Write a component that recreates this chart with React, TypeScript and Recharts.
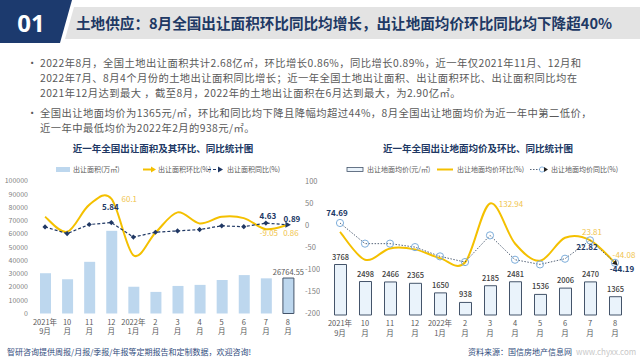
import React from 'react';
import {
    ComposedChart,
    Bar,
    Line,
    XAxis,
    YAxis,
    Cell,
    LabelList,
} from 'recharts';

// ---- data ----
const months = ['2021年9月', '10月', '11月', '12月', '2022年1月', '2月', '3月', '4月', '5月', '6月', '7月', '8月'];
const tickTop = ['2021年', '10', '11', '12', '2022年', '2', '3', '4', '5', '6', '7', '8'];
const tickBottom = ['9月', '月', '月', '月', '1月', '月', '月', '月', '月', '月', '月', '月'];

// left chart: 出让面积(万㎡), 环比(%), 同比(%)
const areaValues = [30400, 25900, 39000, 62400, 20200, 16300, 20800, 21600, 25300, 29000, 26536, 26764.55];
const areaMom = [19, -15, 46, 60.1, -68, -17, 29, 4, 19, 16, -9.05, 0.86];
const areaYoy = [-4, -19, 1.5, 5.84, -27, -16, -13, -10, -1.5, -3.5, 4.63, 0.89];
const areaTicks = [0, 10000, 20000, 30000, 40000, 50000, 60000, 70000, 80000, 90000, 100000];
const pctTicks = [-200, -150, -100, -50, 0, 50, 100];

// right chart: 出让地面均价(元/㎡), 环比(%), 同比(%)
const priceValues = [3768, 2498, 2466, 2365, 1650, 938, 2185, 2481, 1536, 2006, 2470, 1365];
const priceMom = [48, -35, -1.3, -4.1, -30.2, -43.2, 132.94, 13.5, -38.1, 30.6, 23.81, -44.08];
const priceYoy = [74.69, 13, 13, 2.7, -25, -42, 37.7, -35, -49, -32, 22.82, -44.19];

const leftData = months.map((m, i) => ({
    month: m,
    area: areaValues[i],
    mom: areaMom[i],
    yoy: areaYoy[i],
}));

const rightData = months.map((m, i) => ({
    month: m,
    price: priceValues[i],
    mom: priceMom[i],
    yoy: priceYoy[i],
}));

const FONT = '"Noto Sans CJK SC", "Noto Sans", sans-serif';
const NAVY = '#203864';
const GOLD = '#f4c000';
const GOLD_TEXT = '#f0c44c';
const GRAY = '#595959';

// Excel-like smoothed line (catmull-rom style bezier)
const excelCurve = (context: any) => {
    let pts: number[][] = [];
    return {
        areaStart() {},
        areaEnd() {},
        lineStart() { pts = []; },
        point(x: number, y: number) { pts.push([+x, +y]); },
        lineEnd() {
            if (!pts.length) return;
            context.moveTo(pts[0][0], pts[0][1]);
            for (let i = 0; i < pts.length - 1; i++) {
                const p0 = pts[i - 1] || pts[i];
                const p1 = pts[i];
                const p2 = pts[i + 1];
                const p3 = pts[i + 2] || p2;
                context.bezierCurveTo(
                    p1[0] + (p2[0] - p0[0]) / 6, p1[1] + (p2[1] - p0[1]) / 6,
                    p2[0] - (p3[0] - p1[0]) / 6, p2[1] - (p3[1] - p1[1]) / 6,
                    p2[0], p2[1]
                );
            }
        },
    };
};

const MonthTick = ({ x, y, payload, index }: any) => {
    const i = index ?? months.indexOf(payload.value);
    return (
        <text x={x} y={y} textAnchor="middle" fontSize={7.5} fill={GRAY} fontFamily={FONT}>
            <tspan x={x} dy={11}>{tickTop[i]}</tspan>
            <tspan x={x} dy={9.5}>{tickBottom[i]}</tspan>
        </text>
    );
};

// label renderer: only for listed indices, offsets relative to point
const pointLabel = (offsets: Record<number, [number, number]>, color: string, weight = 400) => (props: any) => {
    const { x, y, value, index } = props;
    const o = offsets[index];
    if (!o) return null;
    return (
        <text key={`l${index}`} x={x + o[0]} y={y + o[1]} textAnchor="middle" fontSize={8} fontWeight={weight} fill={color} fontFamily={FONT}>
            {value}
        </text>
    );
};

const DiamondDot = (props: any) => {
    const { cx, cy, index } = props;
    if (cx == null || cy == null) return null;
    if (index === areaYoy.length - 1) {
        return <path key={`d${index}`} d={`M${cx + 3},${cy} L${cx - 2.5},${cy - 3} L${cx - 2.5},${cy + 3} Z`} fill={NAVY} />;
    }
    return <path key={`d${index}`} d={`M${cx},${cy - 2.6} L${cx + 2.6},${cy} L${cx},${cy + 2.6} L${cx - 2.6},${cy} Z`} fill={NAVY} />;
};

const CircleDot = (props: any) => {
    const { cx, cy, index } = props;
    if (cx == null || cy == null) return null;
    return (
        <g key={`c${index}`}>
            <circle cx={cx} cy={cy} r={3.6} fill="none" stroke="#7eaedb" strokeWidth={1} />
            {index === priceYoy.length - 1 && (
                <path d={`M${cx + 2.5},${cy + 2.5} L${cx - 3},${cy + 1} L${cx + 1},${cy - 3} Z`} fill="#222" />
            )}
        </g>
    );
};

const lastBarLabel = (props: any) => {
    const { x, y, width, value, index } = props;
    if (index !== areaValues.length - 1) return null;
    return (
        <text key="lb" x={x + width / 2} y={y - 3} textAnchor="middle" fontSize={7.5} fill={GRAY} fontFamily={FONT}>
            {value}
        </text>
    );
};

const priceBarLabel = (props: any) => {
    const { x, y, width, value, index } = props;
    return (
        <text key={`p${index}`} x={x + width / 2} y={y - 5} textAnchor="middle" fontSize={7.5} fill="#404040" fontWeight={500} fontFamily={FONT}>
            {value}
        </text>
    );
};

const LeftChart = () => (
    <ComposedChart width={320} height={165} data={leftData} margin={{ top: 6, right: 0, bottom: 0, left: 0 }}>
        <XAxis dataKey="month" axisLine={false} tickLine={false} tickSize={0} tickMargin={0} height={26.5} interval={0} tick={<MonthTick />} />
        <YAxis
            yAxisId="area"
            domain={[0, 100000]}
            ticks={areaTicks}
            width={34}
            axisLine={false}
            tickLine={false}
            tickSize={0}
            tickMargin={6}
            tick={{ fontSize: 7, fill: '#7f7f7f', fontFamily: FONT }}
        />
        <YAxis
            yAxisId="pct"
            orientation="right"
            domain={[-200, 100]}
            ticks={pctTicks}
            width={21}
            axisLine={false}
            tickLine={false}
            tickSize={0}
            tickMargin={6}
            tick={{ fontSize: 7.5, fill: '#7f7f7f', fontFamily: FONT, textAnchor: 'start' }}
        />
        <Bar yAxisId="area" dataKey="area" barSize={11} fill="#bdd7ee" isAnimationActive={false}>
            {leftData.map((d, i) => (
                <Cell key={d.month} fill="#bdd7ee" stroke={i === leftData.length - 1 ? '#44546a' : 'none'} strokeWidth={1} />
            ))}
            <LabelList dataKey="area" content={lastBarLabel} />
        </Bar>
        <Line
            yAxisId="pct"
            dataKey="mom"
            type={excelCurve as any}
            stroke={GOLD}
            strokeWidth={2}
            dot={false}
            isAnimationActive={false}
        >
            <LabelList dataKey="mom" content={pointLabel({ 3: [18, 3], 10: [3, 7], 11: [3, 11] }, GOLD_TEXT)} />
        </Line>
        <Line
            yAxisId="pct"
            dataKey="yoy"
            type="linear"
            stroke={NAVY}
            strokeWidth={1.2}
            strokeDasharray="3 2"
            dot={DiamondDot}
            isAnimationActive={false}
        >
            <LabelList dataKey="yoy" content={pointLabel({ 3: [-1, -13], 10: [2, -4], 11: [4, -3] }, NAVY, 700)} />
        </Line>
    </ComposedChart>
);

const RightChart = () => (
    <ComposedChart width={320} height={165} data={rightData} margin={{ top: 6, right: 12.5, bottom: 0, left: 7.5 }}>
        <XAxis dataKey="month" axisLine={false} tickLine={false} tickSize={0} tickMargin={0} height={25} interval={0} tick={<MonthTick />} />
        <YAxis yAxisId="price" hide domain={[0, 10000]} />
        <YAxis yAxisId="pct" hide domain={[-200, 200]} orientation="right" />
        <Bar yAxisId="price" dataKey="price" barSize={12} fill="#eaf3fb" stroke="#44546a" strokeWidth={1} isAnimationActive={false}>
            <LabelList dataKey="price" content={priceBarLabel} />
        </Bar>
        <Line
            yAxisId="pct"
            dataKey="mom"
            type={excelCurve as any}
            stroke={GOLD}
            strokeWidth={2}
            dot={false}
            isAnimationActive={false}
        >
            <LabelList dataKey="mom" content={pointLabel({ 6: [21, 4], 10: [2, -5], 11: [9, -5] }, GOLD_TEXT)} />
        </Line>
        <Line
            yAxisId="pct"
            dataKey="yoy"
            type="linear"
            stroke="#44546a"
            strokeWidth={0.9}
            strokeDasharray="1.5 1.5"
            dot={CircleDot}
            isAnimationActive={false}
        >
            <LabelList dataKey="yoy" content={pointLabel({ 0: [-3, -7], 10: [-3, 10], 11: [7, 9] }, NAVY, 700)} />
        </Line>
    </ComposedChart>
);

const bodyLines = [
    { y: 62, bullet: true, text: '2022年8月，全国土地出让面积共计2.68亿㎡，环比增长0.86%，同比增长0.89%，近一年仅2021年11月、12月和' },
    { y: 77, bullet: false, text: '2022年7月、8月4个月份的土地出让面积同比增长；近一年全国土地出让面积、出让面积环比、出让面积同比均在' },
    { y: 92, bullet: false, text: '2021年12月达到最大 ，截至8月，2022年的土地出让面积在6月达到最大，为2.90亿㎡。' },
    { y: 112, bullet: true, text: '全国出让地面均价为1365元/㎡，环比和同比均下降且降幅均超过44%，8月全国出让地面均价为近一年中第二低价，' },
    { y: 127, bullet: false, text: '近一年中最低均价为2022年2月的938元/㎡。' },
];

export default function App() {
    return (
        <div style={{ position: 'absolute', left: 0, top: 0, width: 640, height: 360, overflow: 'hidden', background: '#fff', fontFamily: FONT }}>
            <svg width={640} height={360} style={{ position: 'absolute', left: 0, top: 0 }}>
                {/* header */}
                <polygon points="74,7 640,7 640,39 65,39" fill="#e3e3e3" />
                <polygon points="0,0 72,0 60,43 0,43" fill="#1c3a6e" />
                <text x={31} y={32} textAnchor="middle" fontSize={24} fontWeight={700} fill="#fff" fontFamily='"Noto Sans", sans-serif'>01</text>
                <text x={76} y={29} fontSize={14.6} fontWeight={700} fill={NAVY} fontFamily={FONT}>
                    土地供应：8月全国出让面积环比同比均增长，出让地面均价环比同比均下降超40%
                </text>

                {/* chart titles */}
                <text x={163} y={152} textAnchor="middle" fontSize={9.5} fontWeight={700} fill={NAVY} fontFamily={FONT}>近一年全国出让面积及其环比、同比统计图</text>
                <text x={478} y={152} textAnchor="middle" fontSize={9.5} fontWeight={700} fill={NAVY} fontFamily={FONT}>近一年全国出让地面均价及环比、同比统计图</text>

                {/* left legend */}
                <rect x={56} y={167} width={14} height={5} fill="#bdd7ee" />
                <text x={73} y={172} fontSize={7} fill={GRAY} fontFamily={FONT}>出让面积(万㎡)</text>
                <line x1={143} y1={169.5} x2={153} y2={169.5} stroke={GOLD} strokeWidth={2} />
                <path d="M156,169.5 L151,166.5 L151,172.5 Z" fill={GOLD} />
                <text x={158} y={172} fontSize={7} fill={GRAY} fontFamily={FONT}>出让面积环比(%)</text>
                <line x1={208} y1={169.5} x2={219} y2={169.5} stroke={NAVY} strokeWidth={1.2} strokeDasharray="3 2" />
                <path d="M223,169.5 L218,166.5 L218,172.5 Z" fill={NAVY} />
                <text x={227} y={172} fontSize={7} fill={GRAY} fontFamily={FONT}>出让面积同比(%)</text>

                {/* right legend */}
                <rect x={347} y={167.5} width={16} height={4} fill="#eaf3fb" stroke="#44546a" strokeWidth={0.8} />
                <text x={367} y={172} fontSize={7} fill={GRAY} fontFamily={FONT}>出让地面均价(元/㎡)</text>
                <line x1={437} y1={169.5} x2={453} y2={169.5} stroke={GOLD} strokeWidth={2} />
                <text x={457} y={172} fontSize={7} fill={GRAY} fontFamily={FONT}>出让地面均价环比(%)</text>
                <line x1={530} y1={169.5} x2={540} y2={169.5} stroke="#44546a" strokeWidth={0.9} strokeDasharray="1.5 1.5" />
                <circle cx={542} cy={169.5} r={2.6} fill="none" stroke="#7eaedb" strokeWidth={0.9} />
                <path d="M548,169.5 L544,167 L544,172 Z" fill="#222" />
                <text x={551} y={172} fontSize={7} fill={GRAY} fontFamily={FONT}>出让地面均价同比(%)</text>

                {/* footer */}
                <text x={7} y={355} fontSize={8} fill="#2f4b7c" fontFamily={FONT}>智研咨询提供周报/月报/季报/年报等定期报告和定制数据，欢迎咨询!</text>
                <text x={468} y={355} fontSize={8} fill="#2f4b7c" fontFamily={FONT}>资料来源：国信房地产信息网</text>
                <text x={576} y={355} fontSize={8} fill="#c8c8c8" fontFamily={FONT}>www.chyxx.com</text>
            </svg>

            {bodyLines.map((l) => (
                <div
                    key={l.y}
                    style={{
                        position: 'absolute',
                        left: 40,
                        top: l.y - 7.5,
                        height: 15,
                        lineHeight: '15px',
                        fontSize: 10.3,
                        letterSpacing: 0.45,
                        color: GRAY,
                        whiteSpace: 'nowrap',
                    }}
                >
                    {l.bullet && <span style={{ position: 'absolute', left: -13, top: 0 }}>•</span>}
                    {l.text}
                </div>
            ))}

            <div style={{ position: 'absolute', left: 0, top: 175 }}>
                <LeftChart />
            </div>
            <div style={{ position: 'absolute', left: 320, top: 175 }}>
                <RightChart />
            </div>
        </div>
    );
}
